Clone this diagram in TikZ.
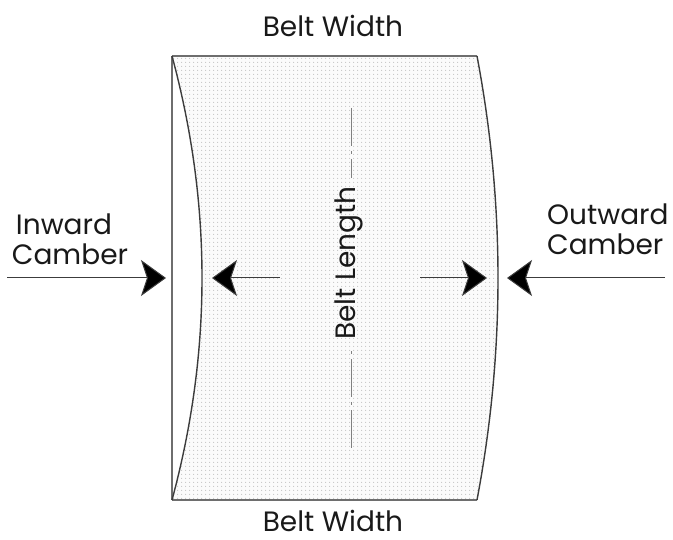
\documentclass[tikz,border=0pt]{standalone}
\usepackage{fontspec}
\setmainfont{Poppins}
\usetikzlibrary{arrows.meta,patterns.meta}
\tikzdeclarepattern{name=beltdots,type=uncolored,
  bounding box={(0pt,0pt) and (4pt,4pt)},tile size={(4pt,4pt)},
  code={\fill (2pt,2pt) circle (0.75pt);}}
\definecolor{edgegray}{RGB}{110,110,110}
\definecolor{curvegray}{RGB}{60,60,60}
\definecolor{txt}{RGB}{25,25,25}
\tikzset{
  lbl/.style={font=\fontsize{28}{30}\selectfont,text=txt,inner sep=0pt},
  shaft/.style={draw=curvegray,line width=1pt,-{Stealth[length=25pt,width=36pt,inset=6pt,fill=black]}},
  outline/.style={draw=edgegray,line width=1.6pt},
  centre/.style={draw=gray,line width=1pt,dash pattern=on 38pt off 5pt on 3pt off 5pt}
}
\begin{document}
\begin{tikzpicture}[x=1pt,y=-1pt]
\useasboundingbox (0,0) rectangle (673,540);
% belt surface
\fill[gray!3] (172,56) -- (477,56) .. controls (505,204) and (505,352) .. (477,500)
  -- (172,500) .. controls (212,352) and (212,204) .. (172,56) -- cycle;
\fill[pattern=beltdots,pattern color=gray!45] (172,56) -- (477,56) .. controls (505,204) and (505,352) .. (477,500)
  -- (172,500) .. controls (212,352) and (212,204) .. (172,56) -- cycle;
\draw[outline] (172,56) -- (477,56);
\draw[outline] (172,500) -- (477,500);
\draw[outline] (172,56) -- (172,500);
\draw[draw=curvegray,line width=1.4pt] (172,56) .. controls (212,204) and (212,352) .. (172,500);
\draw[draw=curvegray,line width=1.4pt] (477,56) .. controls (505,204) and (505,352) .. (477,500);
% centre line
\coordinate (c1) at (351,108);
\coordinate (c2) at (351,178);
\coordinate (c3) at (351,347);
\coordinate (c4) at (351,448);
\draw[centre] (c1) -- (c2);
\draw[centre] (c4) -- (c3);
\node[lbl,rotate=90,anchor=base] (len) at (355,263) {Belt Length};
% labels
\node[lbl,anchor=base] (wtop) at (333,37) {Belt Width};
\node[lbl,anchor=base] (wbot) at (333,531) {Belt Width};
\node[lbl,anchor=base] (in1) at (64,235) {Inward};
\node[lbl,anchor=base] (in2) at (70,265) {Camber};
\node[lbl,anchor=base west] (out1) at (547,225) {Outward};
\node[lbl,anchor=base west] (out2) at (547,255) {Camber};
% arrows
\coordinate (a1s) at (7,278);   \coordinate (a1e) at (166,278);
\coordinate (a2s) at (280,278); \coordinate (a2e) at (212,278);
\coordinate (a3s) at (420,278); \coordinate (a3e) at (487,278);
\coordinate (a4s) at (665,278); \coordinate (a4e) at (507,278);
\draw[shaft] (a1s) -- (a1e);
\draw[shaft] (a2s) -- (a2e);
\draw[shaft] (a3s) -- (a3e);
\draw[shaft] (a4s) -- (a4e);
\end{tikzpicture}
\end{document}
